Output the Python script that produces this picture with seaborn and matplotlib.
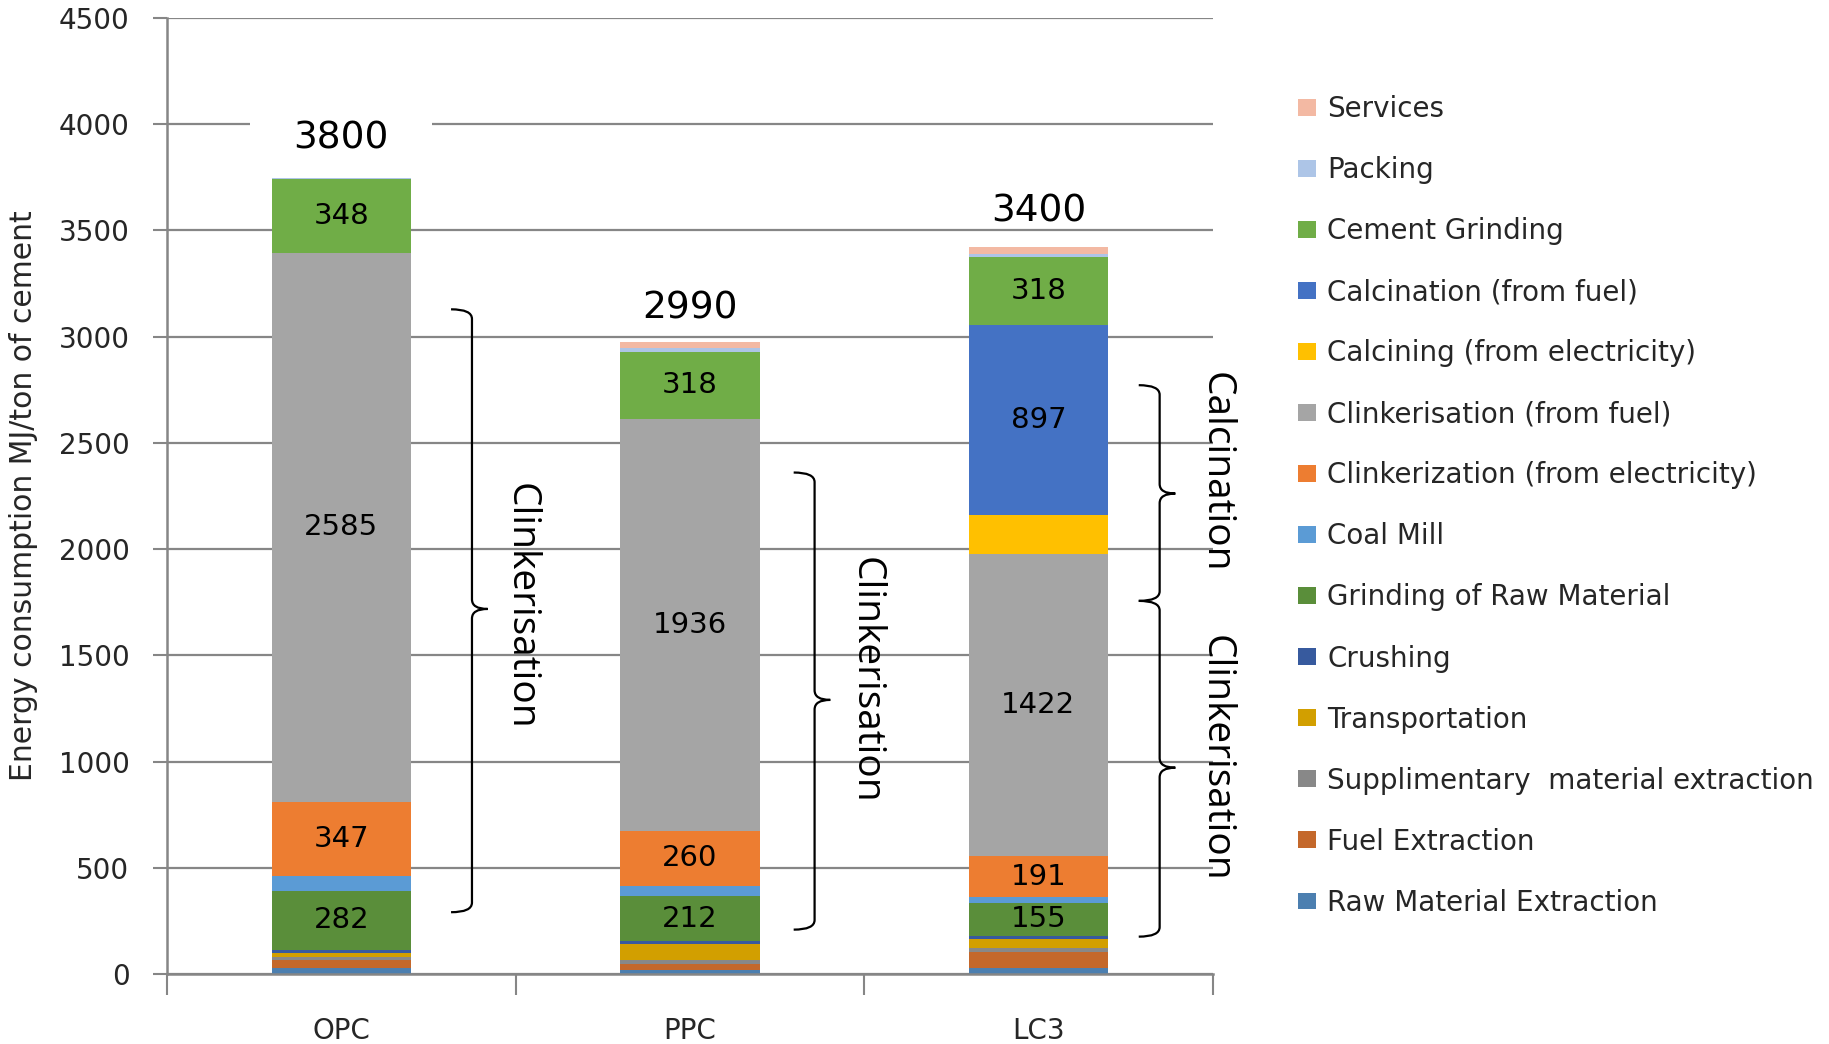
import matplotlib
matplotlib.use("Agg")
import matplotlib.pyplot as plt
from matplotlib.patches import Patch, PathPatch
from matplotlib.path import Path
import seaborn as sns
import pandas as pd
import numpy as np

# ---- data (MJ per ton of cement) ----
cements = ["OPC", "PPC", "LC3"]
total_labels = ["3800", "2990", "3400"]

# components listed bottom -> top of the stack
components = [
    "Raw Material Extraction",
    "Fuel Extraction",
    "Supplimentary  material extraction",
    "Transportation",
    "Crushing",
    "Grinding of Raw Material",
    "Coal Mill",
    "Clinkerization (from electricity)",
    "Clinkerisation (from fuel)",
    "Calcining (from electricity)",
    "Calcination (from fuel)",
    "Cement Grinding",
    "Packing",
    "Services",
]
raw_material_extraction = [29, 18, 29]
fuel_extraction = [38, 27, 76]
supplementary_extraction = [15, 19, 16]
transportation = [15, 77, 46]
crushing = [14, 14, 14]
raw_grinding = [282, 212, 155]
coal_mill = [70, 48, 27]
clinker_electricity = [347, 260, 191]
clinker_fuel = [2585, 1936, 1422]
calcining_electricity = [0, 0, 183]
calcination_fuel = [0, 0, 897]
cement_grinding = [348, 318, 318]
packing = [4, 16, 16]
services = [0, 31, 31]

values = [
    raw_material_extraction, fuel_extraction, supplementary_extraction,
    transportation, crushing, raw_grinding, coal_mill, clinker_electricity,
    clinker_fuel, calcining_electricity, calcination_fuel, cement_grinding,
    packing, services,
]
colors = [
    "#4C7FB0", "#C4682B", "#888888", "#D29F00", "#375A9E", "#5A8E3A",
    "#5B9BD5", "#ED7D31", "#A5A5A5", "#FFC000", "#4472C4", "#70AD47",
    "#ADC5E7", "#F3B9A3",
]
# segments that carry a value label
labelled = {
    "Grinding of Raw Material", "Clinkerization (from electricity)",
    "Clinkerisation (from fuel)", "Calcination (from fuel)", "Cement Grinding",
}

df = pd.DataFrame(
    [(c, comp, v) for comp, vals in zip(components, values) for c, v in zip(cements, vals)],
    columns=["cement", "component", "energy"],
)

sns.set_theme(style="white")
plt.rcParams["font.family"] = ["DejaVu Sans"]

GRID = "#868686"
fig = plt.figure(figsize=(18.29, 10.44), dpi=100)
ax = fig.add_axes([0.0913, 0.067, 0.5717, 0.916])

bottom = np.zeros(len(cements))
for comp, col in zip(components, colors):
    sub = df[df["component"] == comp]
    sns.barplot(data=sub, x="cement", y="energy", order=cements, color=col,
                saturation=1, width=0.4, bottom=bottom.copy(), linewidth=0,
                ax=ax, zorder=2, errorbar=None, legend=False)
    vals = sub.set_index("cement").loc[cements, "energy"].to_numpy(dtype=float)
    if comp in labelled:
        for i, v in enumerate(vals):
            if v > 0:
                ax.text(i, bottom[i] + v / 2, f"{int(v)}", ha="center", va="center",
                        fontsize=21, color="black", zorder=3)
    bottom += vals

# totals above each column
total_offsets = [28, 24, 25.5]
for i, (top, lab, off) in enumerate(zip(bottom, total_labels, total_offsets)):
    kw = {}
    if i == 0:
        kw["bbox"] = dict(boxstyle="square,pad=1.15", fc="white", ec="none")
    ax.annotate(lab, (i, top), xytext=(0, off), textcoords="offset points",
                ha="center", va="center", fontsize=27,
                color="black", zorder=1, **kw)

# axes styling
ax.set_xlim(-0.5, 2.5)
ax.set_ylim(0, 4500)
ax.set_yticks(np.arange(0, 4501, 500))
ax.yaxis.grid(True, color=GRID, linewidth=1.6, zorder=0)
ax.xaxis.grid(False)
ax.set_axisbelow(True)
for side in ("top", "right"):
    ax.spines[side].set_visible(False)
for side in ("left", "bottom"):
    ax.spines[side].set_color(GRID)
    ax.spines[side].set_linewidth(1.8)
    ax.spines[side].set_zorder(2.5)
ax.tick_params(axis="y", direction="out", length=10, width=1.5, color=GRID,
               labelsize=20, pad=17, left=True)
ax.set_xticks([0, 1, 2])
ax.set_xticklabels(cements)
ax.set_xticks([-0.5, 0.5, 1.5, 2.5], minor=True)
ax.tick_params(axis="x", which="major", length=0, labelsize=20, pad=31)
ax.tick_params(axis="x", which="minor", direction="out", length=15, width=1.5,
               color=GRID, bottom=True)
ax.set_xlabel("")
ax.set_ylabel("Energy consumption MJ/ton of cement", fontsize=21.5)
ax.yaxis.set_label_coords(-0.123, 0.5)


def curly_brace(ax, x, y0, y1, ym, hook=0.06, tip=0.045, r=45):
    verts = [(x - hook, y1), (x, y1), (x, y1 - r), (x, ym + r), (x, ym),
             (x + tip, ym), (x, ym), (x, ym - r), (x, y0 + r), (x, y0),
             (x - hook, y0)]
    codes = [Path.MOVETO, Path.CURVE3, Path.CURVE3, Path.LINETO, Path.CURVE3,
             Path.CURVE3, Path.CURVE3, Path.CURVE3, Path.LINETO, Path.CURVE3,
             Path.CURVE3]
    ax.add_patch(PathPatch(Path(verts, codes), fc="none", ec="black", lw=1.6,
                           zorder=4, clip_on=False))


curly_brace(ax, 0.375, 291, 3128, 1718)
curly_brace(ax, 1.358, 209, 2360, 1290)
curly_brace(ax, 2.348, 1756, 2771, 2261)
curly_brace(ax, 2.348, 176, 1756, 971)

note_kw = dict(rotation=270, ha="center", va="center", fontsize=28,
               family="Open Sans", color="black", zorder=4, clip_on=False)
ax.text(0.515, 1729, "Clinkerisation", **note_kw)
ax.text(1.505, 1383, "Clinkerisation", **note_kw)
ax.text(2.508, 2360, "Calcination", **note_kw)
ax.text(2.508, 1015, "Clinkerisation", **note_kw)

# legend, top entry first
handles = [Patch(facecolor=c, edgecolor="none", label=n)
           for n, c in zip(components[::-1], colors[::-1])]
fig.legend(handles=handles, loc="upper left", bbox_to_anchor=(0.7097, 0.909),
           frameon=False, fontsize=20, handlelength=0.65, handleheight=0.55,
           handletextpad=0.4, labelspacing=1.19, borderpad=0, borderaxespad=0)

fig.savefig("out.png", dpi=100, facecolor="white")
